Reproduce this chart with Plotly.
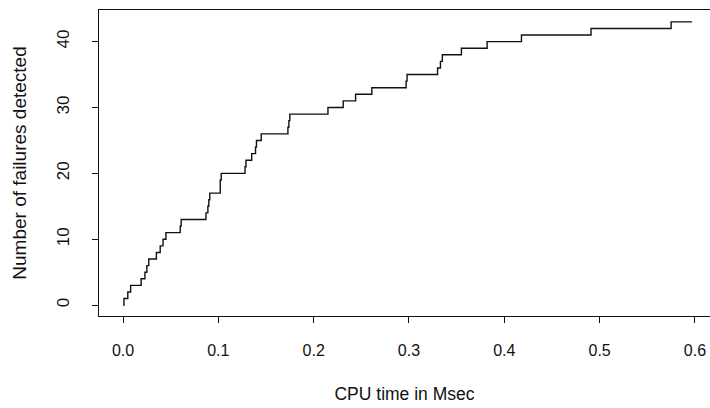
import plotly.graph_objects as go

# Cumulative number of failures detected vs CPU time (Msec)
cpu_time = [0.0, 0.001, 0.005, 0.008, 0.019, 0.023, 0.025, 0.027, 0.035, 0.039,
            0.042, 0.045, 0.060, 0.061, 0.087, 0.089, 0.090, 0.091, 0.102, 0.102,
            0.103, 0.128, 0.129, 0.135, 0.139, 0.140, 0.145, 0.173, 0.174, 0.175,
            0.215, 0.231, 0.244, 0.261, 0.297, 0.298, 0.330, 0.333, 0.335, 0.355,
            0.382, 0.418, 0.491, 0.575, 0.597]
failures = [0, 1, 2, 3, 4, 5, 6, 7, 8, 9,
            10, 11, 12, 13, 14, 15, 16, 17, 18, 19,
            20, 21, 22, 23, 24, 25, 26, 27, 28, 29,
            30, 31, 32, 33, 34, 35, 36, 37, 38, 39,
            40, 41, 42, 43, 43]

x_ticks = [0.0, 0.1, 0.2, 0.3, 0.4, 0.5, 0.6]
x_tick_labels = ["0.0", "0.1", "0.2", "0.3", "0.4", "0.5", "0.6"]
y_ticks = [0, 10, 20, 30, 40]
y_tick_labels = ["0", "10", "20", "30", "40"]

FONT = "Liberation Sans, Arial, Helvetica, sans-serif"
INK = "#111111"

fig = go.Figure()
fig.add_trace(go.Scatter(
    x=cpu_time, y=failures, mode="lines", line_shape="hv",
    line=dict(color=INK, width=1.4), showlegend=False, hoverinfo="x+y",
))

fig.update_layout(
    width=710, height=408,
    margin=dict(l=99, r=0, t=10, b=92, pad=0),
    paper_bgcolor="white", plot_bgcolor="white",
    font=dict(family=FONT, color=INK, size=16),
    xaxis=dict(
        range=[-0.0252, 0.6158], showgrid=False, zeroline=False,
        showline=True, linecolor=INK, linewidth=1.3, mirror=True,
        ticks="outside", ticklen=6, tickwidth=1.2, tickcolor=INK,
        tickvals=x_ticks, ticktext=x_tick_labels,
        tickfont=dict(size=16), ticklabelstandoff=14,
        title=dict(text="CPU time in Msec", font=dict(size=17.5), standoff=29),
    ),
    yaxis=dict(
        range=[-1.65, 44.8], showgrid=False, zeroline=False,
        showline=True, linecolor=INK, linewidth=1.3, mirror=False,
        ticks="outside", ticklen=6, tickwidth=1.2, tickcolor=INK,
        tickvals=y_ticks, ticktext=y_tick_labels, tickangle=-90,
        tickfont=dict(size=17), ticklabelstandoff=16,
        title=dict(text="Number of failures detected", font=dict(size=19), standoff=22),
    ),
)

fig.write_html("out.html")
